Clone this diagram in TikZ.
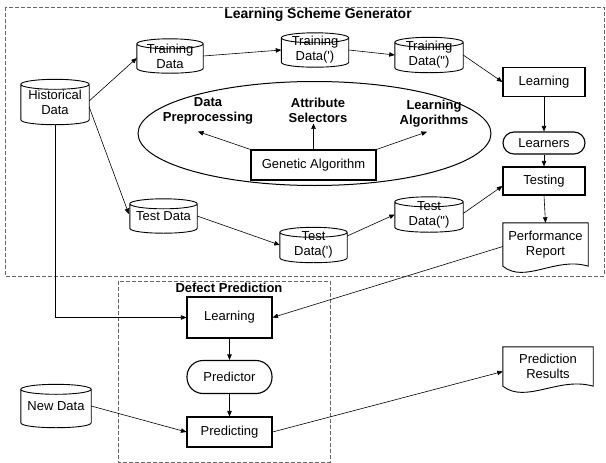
\documentclass[tikz,border=0pt]{standalone}
\usepackage{fontspec}
\setmainfont{Liberation Sans}[Ligatures=TeXOff]
\usetikzlibrary{arrows.meta,calc}
\newcommand\cylbody[1]{%
  \draw[shapeline] let \p1=(#1.north west), \p2=(#1.south east), \n1={(\x2-\x1)/2} in
    ({\x1},{\y1-5pt}) -- ({\x1},{\y2+5pt})
    .. controls ({\x1},{\y2-1.67pt}) and ({\x2},{\y2-1.67pt}) .. ({\x2},{\y2+5pt})
    -- ({\x2},{\y1-5pt})
    ({(\x1+\x2)/2},{\y1-5pt}) ellipse [x radius=\n1, y radius=5pt];
}
\newcommand\docbody[1]{%
  \draw[shapeline] let \p1=(#1.north west), \p2=(#1.south east), \n1={\x2-\x1} in
    ({\x1},{\y2}) .. controls ({\x1+0.26*\n1},{\y2-18pt}) and ({\x1+0.62*\n1},{\y2+10pt}) .. ({\x2},{\y2})
    -- ({\x2},{\y1}) -- ({\x1},{\y1}) -- cycle;
}
\begin{document}
\begin{tikzpicture}[x=1pt,y=-1pt,
  every node/.style={font=\fontsize{13}{15}\selectfont, align=center, inner sep=0pt},
  shapeline/.style={line width=0.9pt, black},
  box/.style={draw, line width=1.1pt, rectangle},
  pill/.style={draw, line width=1.1pt, rectangle, rounded corners=#1},
  data/.style={rectangle},
  lbl/.style={font=\bfseries\fontsize{13}{15}\selectfont, inner sep=1pt},
  ttl/.style={font=\bfseries\fontsize{14}{16}\selectfont},
  conn/.style={draw, line width=0.6pt, -{Triangle[length=5.5pt,width=4.5pt]}},
  dashbox/.style={draw=black!60, line width=0.8pt, dash pattern=on 4pt off 2pt}
]
\useasboundingbox (0,0) rectangle (606,463);

% group frames
\draw[dashbox] (5,7) rectangle (604,276);
\draw[dashbox] (118,281) rectangle (330,462);
\node[ttl] (lsgt) at (318,15) {Learning Scheme Generator};
\node[ttl, font=\bfseries\fontsize{13}{15}\selectfont] (dpt) at (229,288) {Defect Prediction};

% data stores
\node[data, minimum width=68pt, minimum height=45pt] (hist) at (55,102) {Historical\\Data};
\node[data, minimum width=66pt, minimum height=34pt] (td) at (170,56) {Training\\Data};
\node[data, minimum width=67pt, minimum height=34pt] (td1) at (315,50) {Training\\Data(')};
\node[data, minimum width=68pt, minimum height=35pt] (td2) at (429,55) {Training\\Data(")};
\node[data, minimum width=67pt, minimum height=34pt] (test) at (163.5,216) {Test Data};
\node[data, minimum width=67pt, minimum height=35pt] (test1) at (313.5,245) {Test\\Data(')};
\node[data, minimum width=68pt, minimum height=35pt] (test2) at (429,214.5) {Test\\Data(")};
\node[data, minimum width=70pt, minimum height=43pt] (newdata) at (56,406) {New Data};
\foreach \nm in {hist,td,td1,td2,test,test1,test2,newdata} {\cylbody{\nm}}

% right column
\node[box, minimum width=82pt, minimum height=29pt] (learn) at (544,82) {Learning};
\node[pill=11pt, minimum width=82pt, minimum height=22pt] (learners) at (544,143) {Learners};
\node[box, minimum width=82pt, minimum height=28pt] (testing) at (544,181) {Testing};
\node[data, minimum width=85pt, minimum height=43pt] (perf) at (545.5,244.5) {Performance\\Report};
\node[data, minimum width=90pt, minimum height=39pt] (predres) at (548,366.5) {Prediction\\Results};
\docbody{perf}
\docbody{predres}

% genetic algorithm ellipse
\draw[line width=1pt] (314.5,133.5) ellipse [x radius=176.5, y radius=52];
\node[box, minimum width=125pt, minimum height=30pt] (ga) at (313.5,165) {Genetic Algorithm};
\node[lbl] (dp) at (208,111) {Data\\Preprocessing};
\node[lbl] (as) at (318,110) {Attribute\\Selectors};
\node[lbl] (la) at (434,114) {Learning\\Algorithms};

% defect prediction
\node[box, minimum width=85pt, minimum height=41pt] (dlearn) at (229.5,317.5) {Learning};
\node[pill=16pt, minimum width=85pt, minimum height=33pt] (pred) at (229.5,377) {Predictor};
\node[box, minimum width=85pt, minimum height=30pt] (predicting) at (229.5,432) {Predicting};

% connectors
\draw[conn] ($(hist.east)+(0,-1)$) -- ($(td.west)+(0,2)$);
\draw[conn] ($(hist.east)+(0,5)$) -- ($(test.west)+(-1,-2)$);
\draw[conn] (hist.south) |- (dlearn.west);
\draw[conn] (td.east) -- (td1.west);
\draw[conn] (td1.east) -- (td2.west);
\draw[conn] (td2.east) -- (learn.west);
\draw[conn] (learn.south) -- (learners.north);
\draw[conn] (learners.south) -- (testing.north);
\draw[conn] (test.east) -- (test1.west);
\draw[conn] ($(test1.east)+(0,-9)$) -- (test2.west);
\draw[conn] ($(test2.east)+(0,-1)$) -- ($(testing.west)+(0,5)$);
\draw[conn] (testing.south) -- (perf.north);
\draw[conn] ($(perf.west)+(0,2)$) -- (dlearn.east);
\draw[conn] (dlearn.south) -- (pred.north);
\draw[conn] (pred.south) -- (predicting.north);
\draw[conn] (newdata.east) -- (predicting.west);
\draw[conn] (predicting.east) -- ($(predres.west)+(0,5)$);
\draw[conn] (ga.north west) -- ($(dp.south)+(-10,6)$);
\draw[conn] (ga.north) -- (ga.north |- as.south);
\draw[conn] (ga.north east) -- ($(la.south)+(-7,3)$);
\end{tikzpicture}
\end{document}
